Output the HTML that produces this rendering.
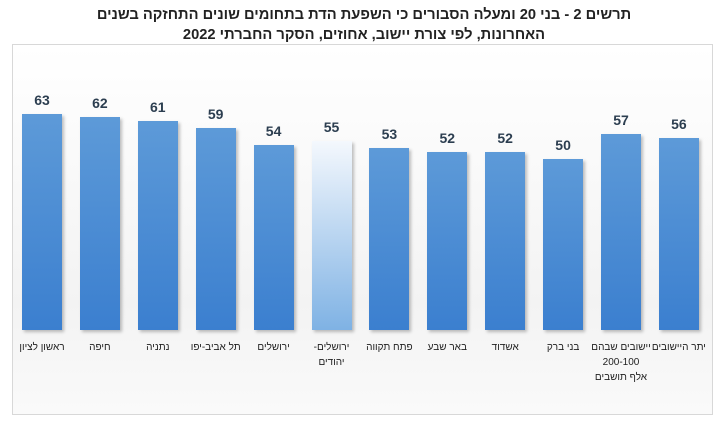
<!DOCTYPE html><html><head><meta charset="utf-8"><style>
body{margin:0;width:728px;height:430px;background:#fff;font-family:"Liberation Sans","DejaVu Sans",sans-serif;position:relative;overflow:hidden}
.t{position:absolute;left:0;width:728px;text-align:center;font-weight:bold;font-size:14.7px;color:#222;direction:rtl}
.frame{position:absolute;left:12px;top:44px;width:699px;height:369px;border:1px solid #d8d8d8;background:linear-gradient(#fff 0%,#f3f3f3 70%,#fafafa 100%)}
.b{position:absolute;width:40px;background:linear-gradient(#5d9ad8,#3b7fcf);box-shadow:2px 2px 3px rgba(0,0,0,.25)}
.v{position:absolute;width:60px;text-align:center;font-weight:bold;font-size:14px;color:#2c3e50}
.c{position:absolute;width:70px;text-align:center;font-size:10px;color:#222;direction:rtl;line-height:15px;white-space:nowrap}
</style></head><body>
<div class="t" style="top:7px">תרשים 2 - בני 20 ומעלה הסבורים כי השפעת הדת בתחומים שונים התחזקה בשנים</div>
<div class="t" style="top:27px">האחרונות, לפי צורת יישוב, אחוזים, הסקר החברתי 2022</div>
<div class="frame"></div>
<div id="c"></div>
<script>
var d=[[63,"ראשון לציון"],[62,"חיפה"],[61,"נתניה"],[59,"תל אביב-יפו"],[54,"ירושלים"],[55,"ירושלים-<br>יהודים"],[53,"פתח תקווה"],[52,"באר שבע"],[52,"אשדוד"],[50,"בני ברק"],[57,"יישובים שבהם<br>200-100<br>אלף תושבים"],[56,"יתר היישובים"]];
var h="";d.forEach(function(e,i){var cx=42+i*57.9,ht=e[0]*3.43,top=330-ht;
var bg=i==5?"background:linear-gradient(#f4f8fd,#7fb2e4)":"";
h+='<div class="b" style="left:'+(cx-20)+'px;top:'+top+'px;height:'+ht+'px;'+bg+'"></div>';
h+='<div class="v" style="left:'+(cx-30)+'px;top:'+(top-22)+'px">'+e[0]+'</div>';
h+='<div class="c" style="left:'+(cx-35)+'px;top:340px">'+e[1]+'</div>';});
document.getElementById("c").innerHTML=h;
</script>
</body></html>
